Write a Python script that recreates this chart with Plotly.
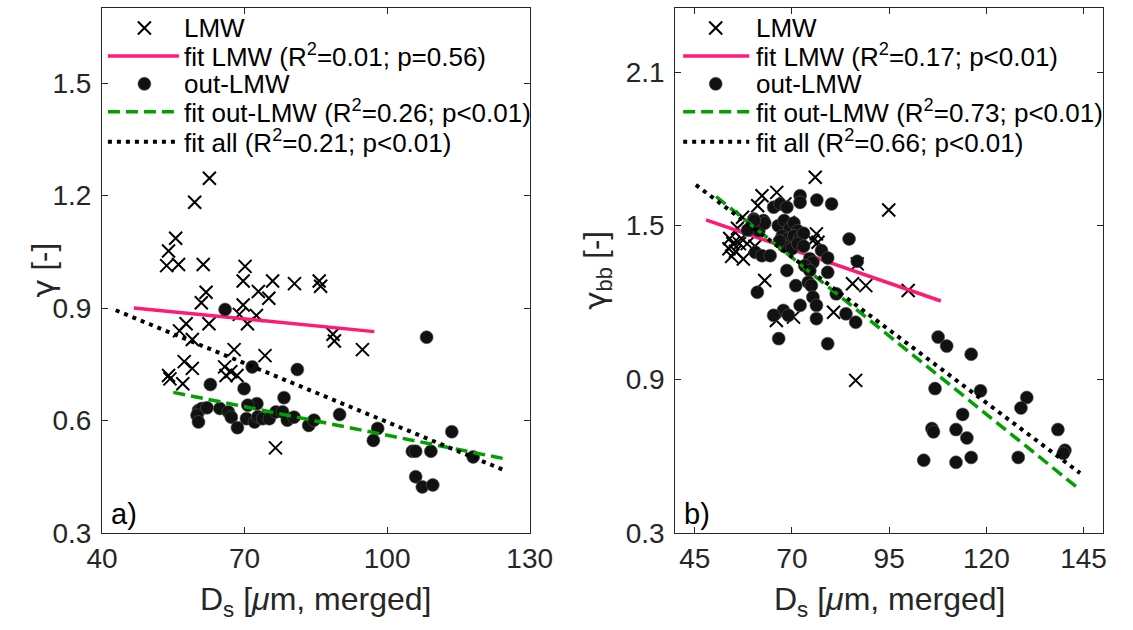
import plotly.graph_objects as go

# ---------------- data: panel a) gamma ----------------
a_lmw_x = [62.6, 59.5, 55.5, 54.0, 53.6, 56.1, 61.3, 70.1, 69.7, 75.9, 80.5, 85.7, 86.0,
           61.9, 72.9, 75.1, 60.9, 69.7, 68.9, 72.5, 70.6, 57.7, 62.5, 56.3, 59.0, 88.6,
           88.9, 94.8, 67.8, 74.3, 57.3, 59.0, 65.8, 67.1, 68.4, 66.1, 54.0, 54.3, 57.0, 76.5]
a_lmw_y = [1.246, 1.182, 1.086, 1.052, 1.013, 1.016, 1.016, 1.011, 0.972, 0.972, 0.965, 0.972, 0.958,
           0.942, 0.944, 0.926, 0.914, 0.908, 0.883, 0.880, 0.858, 0.858, 0.858, 0.839, 0.816, 0.830,
           0.812, 0.789, 0.789, 0.773, 0.757, 0.739, 0.743, 0.730, 0.720, 0.720, 0.720, 0.711, 0.698, 0.527]

a_out_x = [65.9, 108.3, 71.6, 81.1, 62.8, 69.9, 78.3, 72.6, 70.7, 60.3, 61.0, 62.1, 60.0, 60.3,
           64.8, 66.6, 67.2, 68.5, 70.4, 72.1, 72.8, 73.8, 75.2, 76.6, 78.0, 79.0, 80.4, 83.5,
           84.6, 90.0, 98.0, 97.1, 113.6, 105.3, 106.0, 109.2, 118.1, 106.0, 107.4, 109.6]
a_out_y = [0.896, 0.822, 0.743, 0.736, 0.696, 0.685, 0.661, 0.645, 0.641, 0.627, 0.632, 0.634, 0.614, 0.596,
           0.632, 0.623, 0.609, 0.581, 0.605, 0.596, 0.610, 0.605, 0.605, 0.623, 0.623, 0.601, 0.609, 0.587,
           0.601, 0.616, 0.579, 0.547, 0.570, 0.518, 0.518, 0.518, 0.503, 0.450, 0.423, 0.428]

a_fit_lmw_x = [46.7, 97.3]
a_fit_lmw_y = [0.900, 0.837]
a_fit_out_x = [55.0, 124.3]
a_fit_out_y = [0.675, 0.499]
a_fit_all_x = [42.9, 125.1]
a_fit_all_y = [0.894, 0.465]

a_legend = ["LMW",
            "fit LMW (R<sup>2</sup>=0.01; p=0.56)",
            "out-LMW",
            "fit out-LMW (R<sup>2</sup>=0.26; p<0.01)",
            "fit all (R<sup>2</sup>=0.21; p<0.01)"]

# ---------------- data: panel b) gamma_bb ----------------
b_lmw_x = [76.0, 94.9, 62.3, 66.1, 61.2, 68.2, 57.3, 69.1,
           54.0, 54.8, 53.8, 55.5, 54.5, 57.5, 56.5, 57.0, 56.0, 58.5, 60.5,
           63.0, 76.3, 75.4, 76.7, 86.8, 85.6, 89.0, 99.9, 80.7, 66.0, 70.4, 86.4]
b_lmw_y = [1.689, 1.561, 1.617, 1.630, 1.578, 1.585, 1.533, 1.513,
           1.450, 1.430, 1.410, 1.400, 1.380, 1.370, 1.430, 1.450, 1.490, 1.430, 1.420,
           1.286, 1.468, 1.442, 1.435, 1.351, 1.273, 1.266, 1.247, 1.162, 1.130, 1.143, 0.896]

b_out_x = [72.1, 72.1, 76.4, 80.2, 65.3, 67.0, 68.7, 60.2, 62.7, 59.4, 61.5,
           66.5, 68.0, 69.5, 70.5, 71.5, 67.5, 69.0, 70.5, 72.0, 73.0, 68.0, 70.0, 71.5, 73.0, 66.8,
           58.6, 63.0, 60.3,
           60.6, 62.3, 64.4, 84.7, 77.6, 79.2, 74.6, 75.4, 73.3, 74.6, 86.8, 68.7, 79.2, 71.0, 74.2,
           75.0, 61.1, 81.4, 75.4, 76.3, 83.9, 86.4, 72.1, 76.3, 67.8, 65.3, 69.1, 66.6, 79.2,
           107.6, 109.8, 116.1, 106.8, 118.5, 130.4, 128.9, 113.9, 106.0, 106.4, 112.2, 115.0,
           138.4, 140.2, 139.8, 103.9, 112.2, 116.1, 128.2]
b_out_y = [1.617, 1.591, 1.600, 1.585, 1.572, 1.585, 1.572, 1.526, 1.520, 1.487, 1.481,
           1.500, 1.520, 1.490, 1.510, 1.480, 1.460, 1.450, 1.460, 1.450, 1.470, 1.420, 1.410, 1.430, 1.420, 1.440,
           1.483, 1.510, 1.520,
           1.396, 1.383, 1.383, 1.448, 1.403, 1.374, 1.371, 1.357, 1.344, 1.325, 1.361, 1.325, 1.318, 1.266, 1.279,
           1.266, 1.240, 1.234, 1.221, 1.189, 1.156, 1.123, 1.189, 1.137, 1.169, 1.150, 1.150, 1.059, 1.039,
           1.065, 1.030, 0.998, 0.864, 0.855, 0.829, 0.788, 0.763, 0.708, 0.695, 0.704, 0.671,
           0.704, 0.623, 0.611, 0.584, 0.576, 0.595, 0.595]

b_fit_lmw_x = [47.9, 108.3]
b_fit_lmw_y = [1.523, 1.206]
b_fit_out_x = [50.5, 143.7]
b_fit_out_y = [1.614, 0.474]
b_fit_all_x = [45.3, 144.1]
b_fit_all_y = [1.659, 0.534]

b_legend = ["LMW",
            "fit LMW (R<sup>2</sup>=0.17; p<0.01)",
            "out-LMW",
            "fit out-LMW (R<sup>2</sup>=0.73; p<0.01)",
            "fit all (R<sup>2</sup>=0.66; p<0.01)"]

a_xticks = [40, 70, 100, 130]
a_yticks = [0.3, 0.6, 0.9, 1.2, 1.5]
b_xticks = [45, 70, 95, 120, 145]
b_yticks = [0.3, 0.9, 1.5, 2.1]

# ---------------- styling ----------------
FONT = "Liberation Sans, Arial, sans-serif"
PINK = "#FF1A72"
GREEN = "#00A000"
AX = "#262626"
W, H = 1133, 630
ML, MR, MT, MB = 102, 16, 7, 97
PLOT_H = H - MT - MB

fig = go.Figure()


def add_panel(xa, ya, lmw_x, lmw_y, out_x, out_y, fl, fo, fa):
    fig.add_trace(go.Scatter(x=lmw_x, y=lmw_y, mode="markers", xaxis=xa, yaxis=ya,
                             marker=dict(symbol="x-thin", size=13, color="black",
                                         line=dict(width=2, color="black")),
                             showlegend=False, hoverinfo="x+y"))
    fig.add_trace(go.Scatter(x=fl[0], y=fl[1], mode="lines", xaxis=xa, yaxis=ya,
                             line=dict(color=PINK, width=3.5), showlegend=False))
    fig.add_trace(go.Scatter(x=out_x, y=out_y, mode="markers", xaxis=xa, yaxis=ya,
                             marker=dict(symbol="circle", size=13, color="#111111",
                                         line=dict(width=0.6, color="#555555")),
                             showlegend=False, hoverinfo="x+y"))
    fig.add_trace(go.Scatter(x=fo[0], y=fo[1], mode="lines", xaxis=xa, yaxis=ya,
                             line=dict(color=GREEN, width=3.5, dash="12px,6px"), showlegend=False))
    fig.add_trace(go.Scatter(x=fa[0], y=fa[1], mode="lines", xaxis=xa, yaxis=ya,
                             line=dict(color="black", width=4, dash="4px,5px"), showlegend=False))


add_panel("x", "y", a_lmw_x, a_lmw_y, a_out_x, a_out_y,
          (a_fit_lmw_x, a_fit_lmw_y), (a_fit_out_x, a_fit_out_y), (a_fit_all_x, a_fit_all_y))
add_panel("x2", "y2", b_lmw_x, b_lmw_y, b_out_x, b_out_y,
          (b_fit_lmw_x, b_fit_lmw_y), (b_fit_out_x, b_fit_out_y), (b_fit_all_x, b_fit_all_y))

panel_w = 433.7
shapes = []
annotations = []
row_px = [27, 55, 83, 111, 141]


def legend(xr, yr, labels, line_l, line_r, mark_x, text_x):
    ys = [1 - (p - MT) / PLOT_H for p in row_px]
    d = lambda px: px / panel_w
    # LMW marker (x)
    for s in (1, -1):
        shapes.append(dict(type="line", xref=xr + " domain", yref=yr + " domain",
                           xsizemode="pixel", ysizemode="pixel",
                           xanchor=d(mark_x), yanchor=ys[0],
                           x0=-6.5, x1=6.5, y0=-6.5 * s, y1=6.5 * s,
                           line=dict(color="black", width=2)))
    # out-LMW marker (dot)
    shapes.append(dict(type="circle", xref=xr + " domain", yref=yr + " domain",
                       xsizemode="pixel", ysizemode="pixel",
                       xanchor=d(mark_x), yanchor=ys[2],
                       x0=-6.5, x1=6.5, y0=-6.5, y1=6.5,
                       fillcolor="#111111", line=dict(color="#555555", width=0.6)))
    for i, (col, dash, wd) in zip((1, 3, 4), ((PINK, "solid", 3.5), (GREEN, "12px,6px", 3.5),
                                              ("black", "4px,5px", 4))):
        shapes.append(dict(type="line", xref=xr + " domain", yref=yr + " domain",
                           x0=d(line_l), x1=d(line_r), y0=ys[i], y1=ys[i],
                           line=dict(color=col, width=wd, dash=dash)))
    for i, t in enumerate(labels):
        annotations.append(dict(text=t, xref=xr + " domain", yref=yr + " domain",
                                x=d(text_x), y=ys[i], xanchor="left", yanchor="middle",
                                showarrow=False, font=dict(family=FONT, size=26, color="black")))


legend("x", "y", a_legend, 6, 78, 43, 81)
legend("x2", "y2", b_legend, 8, 75, 41, 80)

# panel letters
for xr, yr, t in (("x", "y", "a)"), ("x2", "y2", "b)")):
    annotations.append(dict(text=t, xref=xr + " domain", yref=yr + " domain", x=0, y=0,
                            xanchor="left", yanchor="bottom", xshift=7, yshift=1,
                            showarrow=False, font=dict(family=FONT, size=29, color="black")))

# axis titles
xt = "D<sub>s</sub> [<i>\u03bc</i>m, merged]"
for xr, yr in (("x", "y"), ("x2", "y2")):
    annotations.append(dict(text=xt, xref=xr + " domain", yref=yr + " domain", x=0.5, y=0,
                            xanchor="center", yanchor="middle", yshift=-68,
                            showarrow=False, font=dict(family=FONT, size=32, color=AX)))
GAM = "<span style=\"font-family:DejaVu Sans\">\u03b3</span>"
annotations.append(dict(text=GAM + " [-]", xref="x domain", yref="y domain", x=0, y=0.5,
                        xanchor="center", yanchor="middle", xshift=-60, textangle=-90,
                        showarrow=False, font=dict(family=FONT, size=31, color=AX)))
annotations.append(dict(text=GAM + "<sub>bb</sub> [-]", xref="x2 domain", yref="y2 domain", x=0, y=0.5,
                        xanchor="center", yanchor="middle", xshift=-78, textangle=-90,
                        showarrow=False, font=dict(family=FONT, size=31, color=AX)))

axis_common = dict(showline=True, linecolor=AX, linewidth=1, mirror="ticks", ticks="inside",
                   ticklen=6, tickcolor=AX, tickwidth=1, showgrid=False, zeroline=False,
                   tickfont=dict(family=FONT, size=28, color=AX))

fig.update_layout(
    width=W, height=H, margin=dict(l=ML, r=MR, t=MT, b=MB),
    plot_bgcolor="white", paper_bgcolor="white", showlegend=False,
    xaxis=dict(domain=[0, 0.4273], range=[40, 130], tickvals=a_xticks, anchor="y",
               ticklabelstandoff=0, **axis_common),
    yaxis=dict(domain=[0, 1], range=[0.3, 1.7], tickvals=a_yticks, anchor="x",
               tickformat=".1f", ticklabelstandoff=4, **axis_common),
    xaxis2=dict(domain=[0.5727, 1], range=[40, 150], tickvals=b_xticks, anchor="y2",
                ticklabelstandoff=0, **axis_common),
    yaxis2=dict(domain=[0, 1], range=[0.3, 2.35], tickvals=b_yticks, anchor="x2",
                tickformat=".1f", ticklabelstandoff=4, **axis_common),
    shapes=shapes, annotations=annotations,
)

fig.write_html("out.html")
